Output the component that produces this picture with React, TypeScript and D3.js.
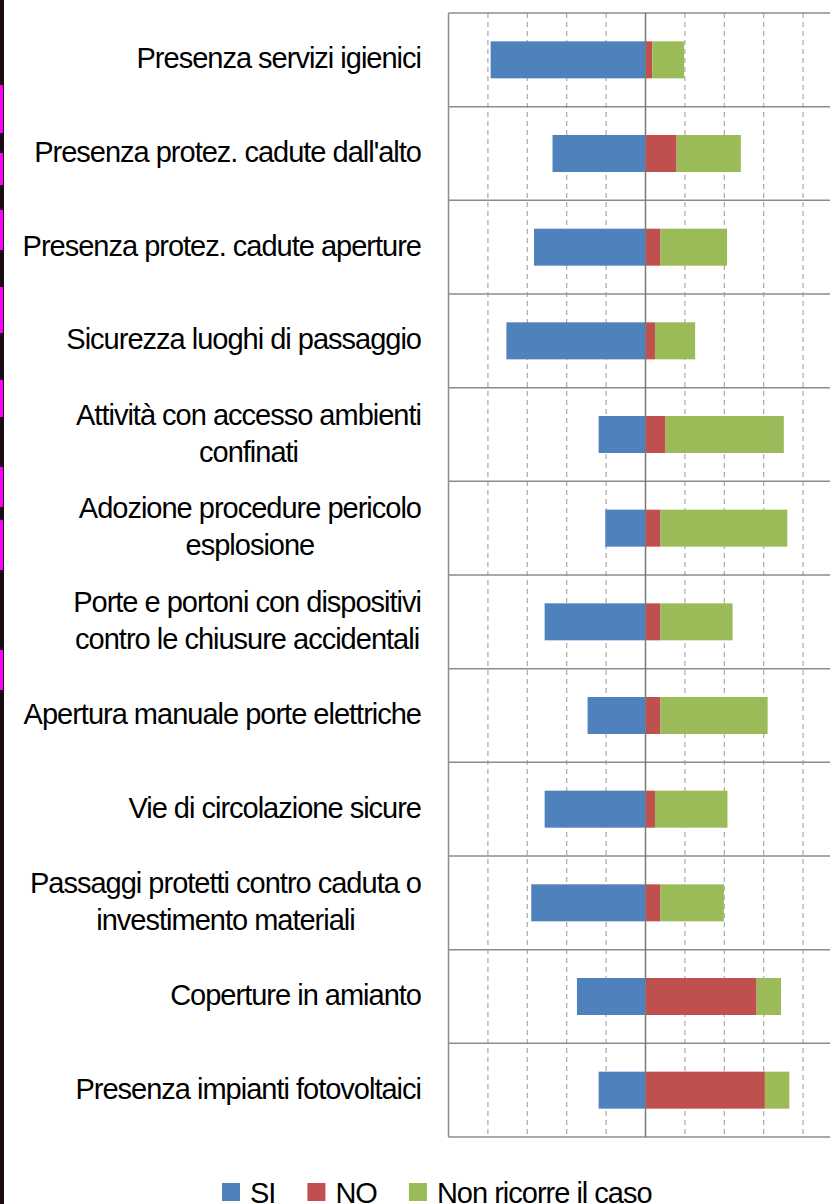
import React, { useEffect, useRef } from "react";
import * as d3 from "d3";

const categories: string[] = [
  "Presenza servizi igienici",
  "Presenza protez. cadute dall'alto",
  "Presenza protez. cadute aperture",
  "Sicurezza luoghi di passaggio",
  "Attività con accesso ambienti\nconfinati",
  "Adozione procedure pericolo\nesplosione",
  "Porte e portoni con dispositivi\ncontro le chiusure accidentali",
  "Apertura manuale porte elettriche",
  "Vie di circolazione sicure",
  "Passaggi protetti contro caduta o\ninvestimento materiali",
  "Coperture in amianto",
  "Presenza impianti fotovoltaici",
];
const siValues = [39.3, 23.6, 28.3, 35.3, 11.9, 10.2, 25.6, 14.7, 25.6, 29.0, 17.4, 11.9];
const noValues = [1.7, 7.9, 3.8, 2.4, 5.1, 3.8, 3.8, 3.8, 2.4, 3.8, 28.2, 30.3];
const ncValues = [8.1, 16.3, 16.9, 10.2, 30.0, 32.2, 18.3, 27.2, 18.4, 16.1, 6.2, 6.2];
const seriesNames = ["SI", "NO", "Non ricorre il caso"];
const seriesColors = ["#4F81BD", "#C0504D", "#9BBB59"];
const xDomain = [-50, 50];
const gridTicks = [-40, -30, -20, -10, 10, 20, 30, 40];
const stripSegments = [
  [85, 133], [153, 185], [210, 250], [287, 333], [380, 417], [467, 507], [520, 570], [650, 690],
];

const W = 830;
const H = 1204;
const FONT = "'Liberation Sans', Arial, sans-serif";

export default function App() {
  const ref = useRef<SVGSVGElement | null>(null);

  useEffect(() => {
    const svg = d3.select(ref.current);
    svg.selectAll("*").remove();

    // left edge artifact strip
    svg.append("rect").attr("x", 0).attr("y", 0).attr("width", 4).attr("height", H).attr("fill", "#1a0a14");
    svg.selectAll("rect.seg").data(stripSegments).enter().append("rect")
      .attr("class", "seg").attr("x", 0).attr("width", 3)
      .attr("y", (d) => d[0]).attr("height", (d) => d[1] - d[0]).attr("fill", "#ff00ff");

    const left = 448.5;
    const x = d3.scaleLinear().domain(xDomain).range([left, left + 394]);
    const y = d3.scaleBand<number>().domain(d3.range(categories.length)).range([13, 1137]).padding(0);
    const bw = y.bandwidth();
    const barH = 37;

    const g = svg.append("g");

    // dashed grid
    g.selectAll("line.grid").data(gridTicks).enter().append("line")
      .attr("x1", (d) => x(d)).attr("x2", (d) => x(d))
      .attr("y1", 13).attr("y2", 1137)
      .attr("stroke", "#a9a9a9").attr("stroke-width", 1.2).attr("stroke-dasharray", "5,4");

    // row separators
    const bounds = d3.range(categories.length + 1).map((i) => (i < categories.length ? (y(i) as number) : 1137));
    g.selectAll("line.row").data(bounds).enter().append("line")
      .attr("x1", left).attr("x2", W).attr("y1", (d) => d).attr("y2", (d) => d)
      .attr("stroke", "#8c8c8c").attr("stroke-width", 1.5);

    // left border
    g.append("line").attr("x1", left).attr("x2", left).attr("y1", 13).attr("y2", 1137)
      .attr("stroke", "#8c8c8c").attr("stroke-width", 1.5);

    // bars
    const rows = categories.map((c, i) => ({ i, si: siValues[i], no: noValues[i], nc: ncValues[i] }));
    const yc = (i: number) => (y(i) as number) + bw / 2;
    g.selectAll("rect.si").data(rows).enter().append("rect")
      .attr("x", (d) => x(-d.si)).attr("width", (d) => x(0) - x(-d.si))
      .attr("y", (d) => yc(d.i) - barH / 2).attr("height", barH).attr("fill", seriesColors[0]);
    g.selectAll("rect.no").data(rows).enter().append("rect")
      .attr("x", x(0)).attr("width", (d) => x(d.no) - x(0))
      .attr("y", (d) => yc(d.i) - barH / 2).attr("height", barH).attr("fill", seriesColors[1]);
    g.selectAll("rect.nc").data(rows).enter().append("rect")
      .attr("x", (d) => x(d.no)).attr("width", (d) => x(d.no + d.nc) - x(d.no))
      .attr("y", (d) => yc(d.i) - barH / 2).attr("height", barH).attr("fill", seriesColors[2]);

    // center axis
    g.append("line").attr("x1", x(0)).attr("x2", x(0)).attr("y1", 13).attr("y2", 1137)
      .attr("stroke", "#7a7a7a").attr("stroke-width", 1.5);

    // labels
    const labelRight = 421;
    const lineGap = 37;
    categories.forEach((c, i) => {
      const lines = c.split("\n");
      const cy = yc(i);
      const first = cy + 8.5 - ((lines.length - 1) * lineGap) / 2;
      const texts = lines.map((ln, k) =>
        svg.append("text").text(ln)
          .attr("y", first + k * lineGap)
          .attr("font-family", FONT).attr("font-size", 29).attr("letter-spacing", -1)
          .attr("fill", "#000")
      );
      const widths = texts.map((t) => (t.node() as SVGTextElement).getComputedTextLength());
      const maxW = Math.max(...widths);
      const center = labelRight - maxW / 2;
      texts.forEach((t) => t.attr("x", center).attr("text-anchor", "middle"));
    });

    // legend
    let lx = 222;
    seriesNames.forEach((name, k) => {
      svg.append("rect").attr("x", lx).attr("y", 1183).attr("width", 18).attr("height", 18).attr("fill", seriesColors[k]);
      const t = svg.append("text").text(name).attr("x", lx + 28).attr("y", 1203)
        .attr("font-family", FONT).attr("font-size", 29).attr("letter-spacing", -1).attr("fill", "#000");
      const w = (t.node() as SVGTextElement).getComputedTextLength();
      lx = lx + 28 + w + 32;
    });
  }, []);

  return (
    <svg
      ref={ref}
      width={W}
      height={H}
      style={{ position: "absolute", left: 0, top: 0, background: "#fff" }}
    />
  );
}
